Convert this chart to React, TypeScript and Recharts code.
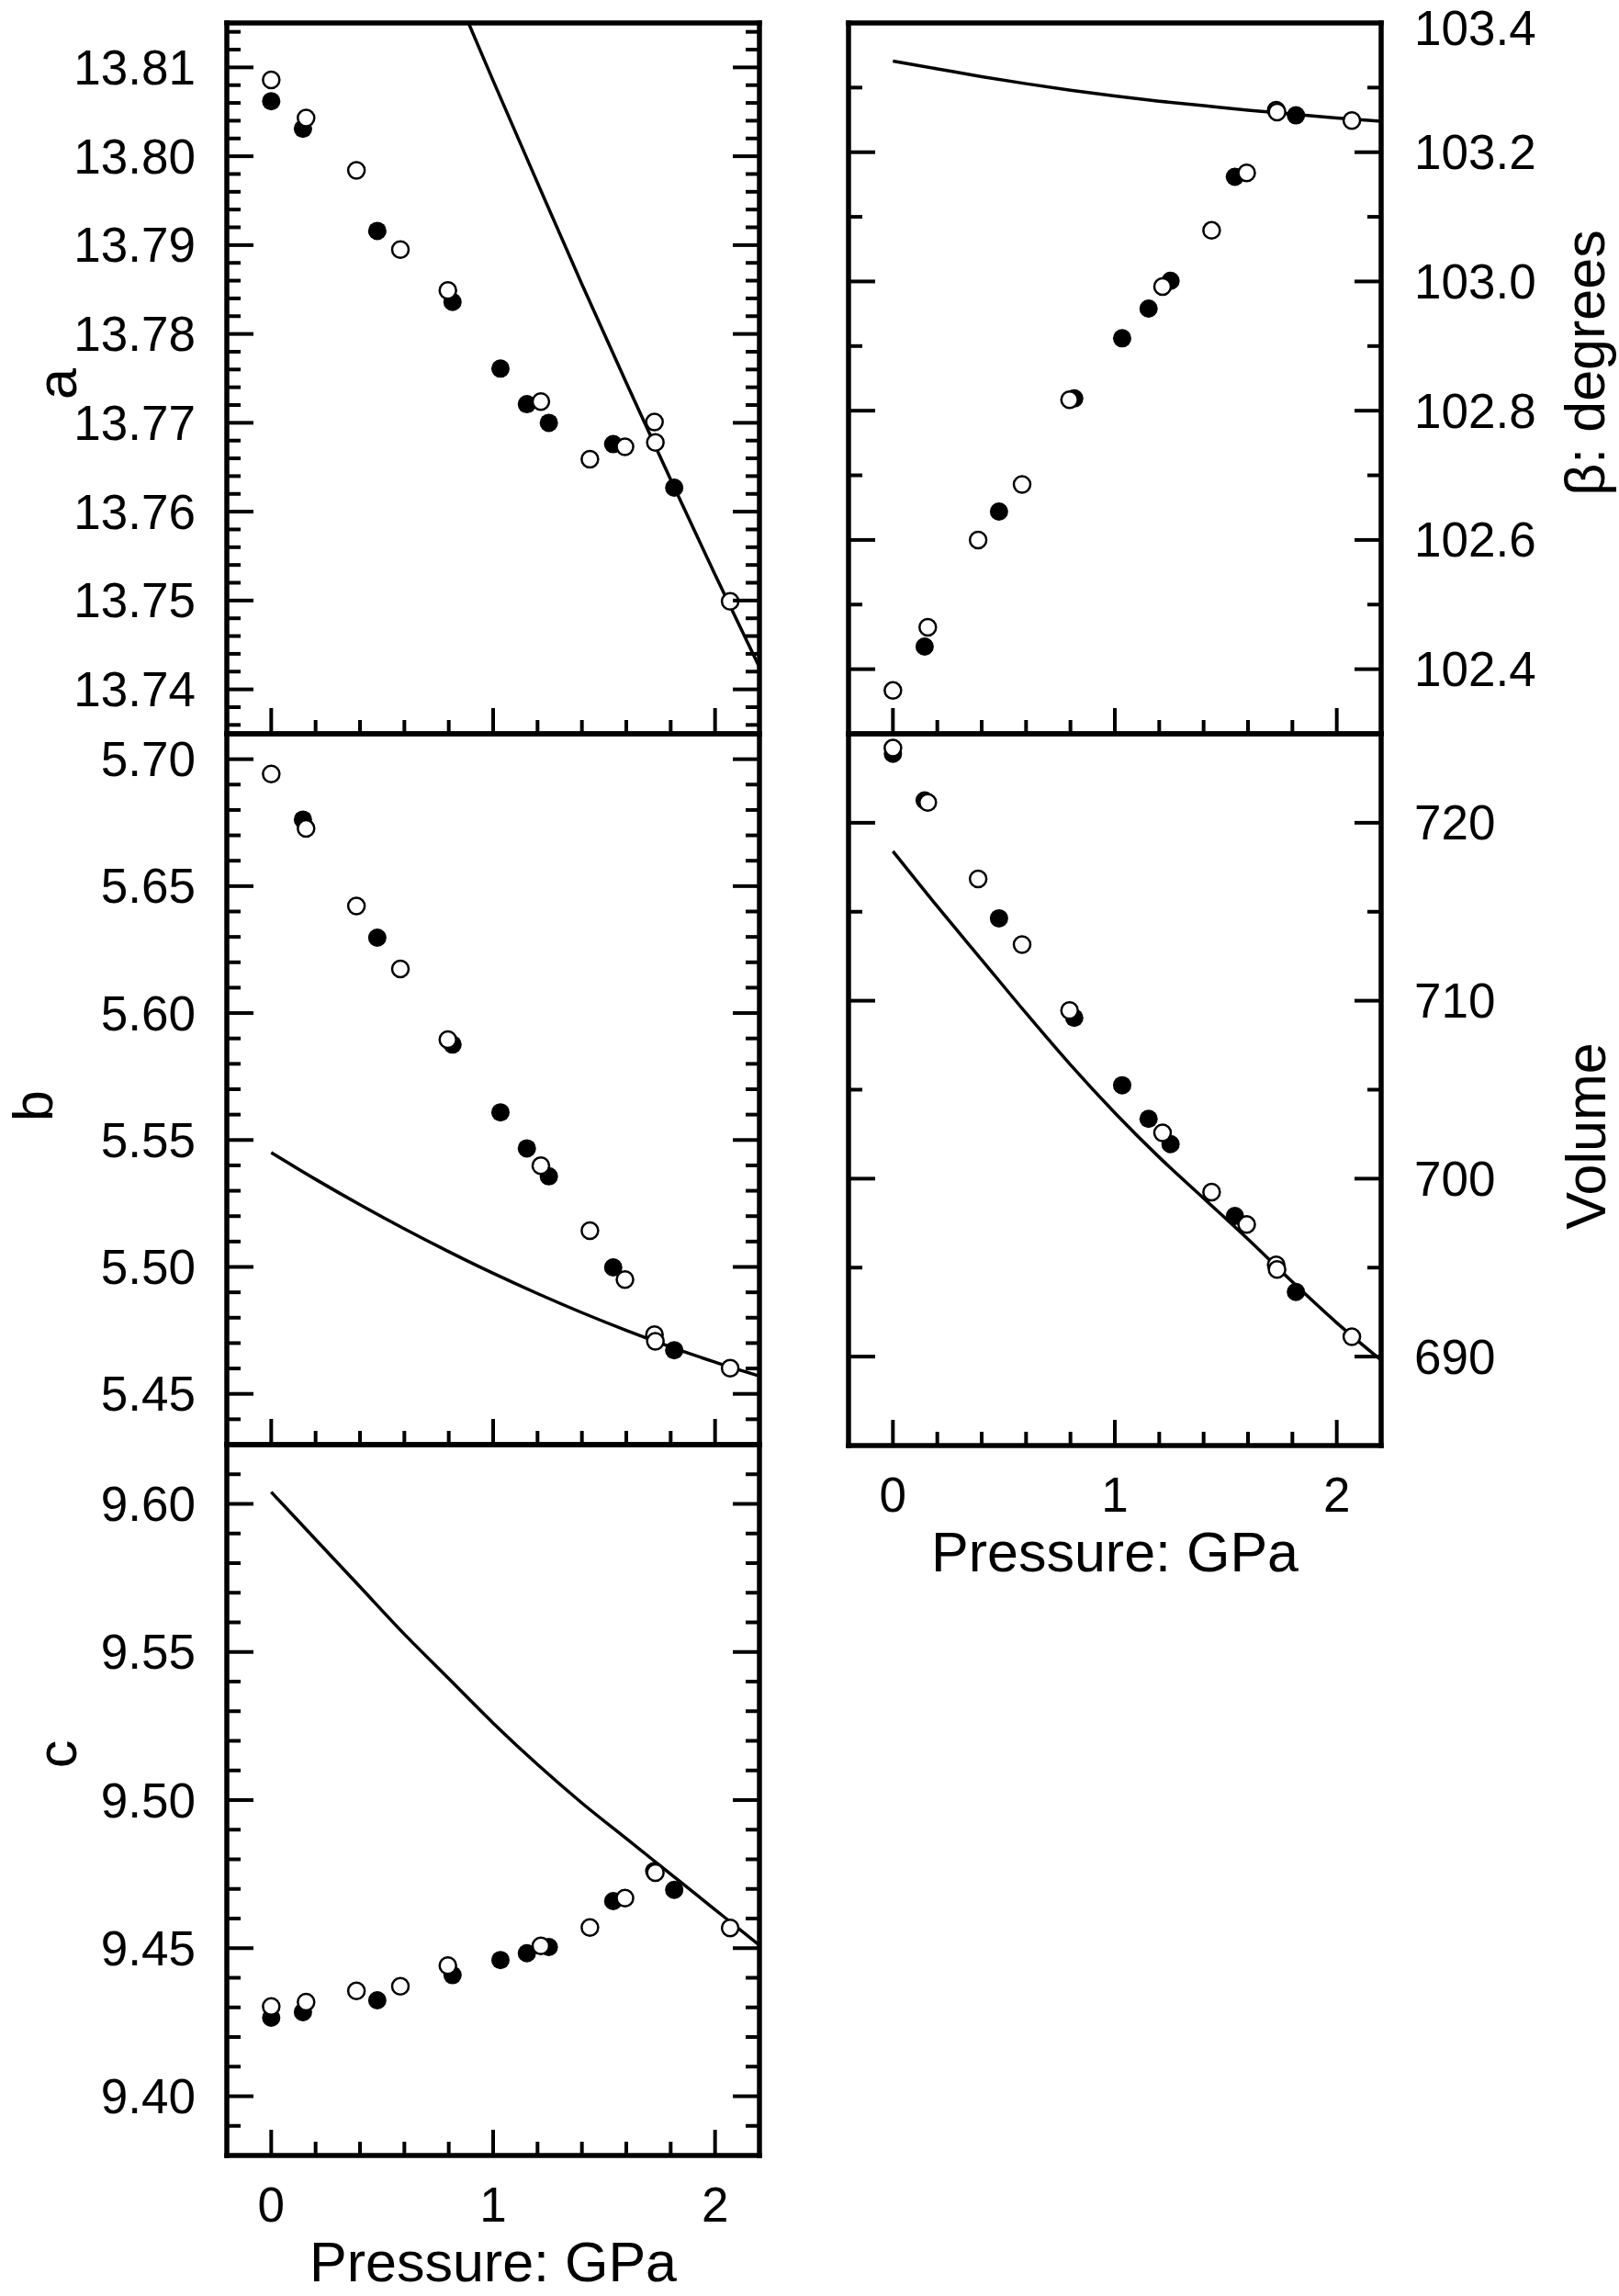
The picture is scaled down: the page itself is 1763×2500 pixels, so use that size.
import React from 'react';
import { ComposedChart, Scatter, Line, XAxis, YAxis } from 'recharts';

const FONT = "'Liberation Sans', Arial, Helvetica, sans-serif";

// pressure (GPa) of the two runs of measurements and of the fitted curves
const filledP = [0, 0.143, 0.478, 0.817, 1.033, 1.152, 1.251, 1.541, 1.816];
const openP = [0, 0.157, 0.384, 0.582, 0.796, 1.215, 1.436, 1.594, 1.727, 1.731, 2.068];
const fitP = [0, 0.2, 0.4, 0.6, 0.8, 1.0, 1.2, 1.4, 1.6, 1.8, 2.0, 2.2];
const fitPA = [0.8, 1.0, 1.2, 1.4, 1.6, 1.8, 2.0, 2.2];

// a
const aFilled = [13.8062, 13.8031, 13.7916, 13.7836, 13.7761, 13.7721, 13.77, 13.7676, 13.7627];
const aOpen = [13.8086, 13.8043, 13.7984, 13.7895, 13.7849, 13.7724, 13.7659, 13.7673, 13.7701, 13.7678, 13.7499];
const aFit = [13.8202, 13.8085, 13.797, 13.7856, 13.7745, 13.7636, 13.7529, 13.7425];

// b
const bFilled = [null, 5.6762, 5.6297, 5.5876, 5.5609, 5.5467, 5.5357, 5.4998, 5.4672];
const bOpen = [5.6942, 5.6727, 5.6422, 5.6174, 5.5895, 5.5399, 5.5143, 5.495, 5.4733, 5.4707, 5.4601];
const bFit = [5.545, 5.5345, 5.5245, 5.515, 5.506, 5.4975, 5.4895, 5.482, 5.475, 5.4685, 5.4625, 5.457];

// c
const cFilled = [9.4265, 9.4284, 9.4324, 9.4409, 9.446, 9.4483, 9.4504, 9.4659, 9.4697];
const cOpen = [9.4303, 9.4318, 9.4356, 9.4371, 9.4441, 9.4508, 9.457, 9.4669, 9.476, 9.4755, 9.4568];
const cFit = [9.604, 9.588, 9.572, 9.556, 9.541, 9.526, 9.512, 9.499, 9.487, 9.475, 9.463, 9.451];

// beta
const betaFilled = [null, 102.435, 102.644, 102.819, 102.912, 102.958, 103.001, 103.162, 103.257];
const betaOpen = [102.367, 102.465, 102.6, 102.686, 102.817, 102.992, 103.079, 103.168, 103.265, 103.262, 103.249];
const betaFit = [103.341, 103.329, 103.317, 103.306, 103.296, 103.287, 103.279, 103.272, 103.265, 103.259, 103.253, 103.248];

// volume
const volFilled = [723.88, 721.26, 714.63, 709.04, 705.25, 703.36, 701.94, 697.9, 693.63];
const volOpen = [724.2, 721.14, 716.84, 713.15, 709.45, 702.57, 699.25, 697.42, 695.15, 694.9, 691.11];
const volFit = [718.4, 715.3, 712.3, 709.3, 706.4, 703.7, 701.2, 698.9, 696.6, 694.2, 691.9, 689.8];

// axis ticks
const xTicks = [0, 0.2, 0.4, 0.6, 0.8, 1, 1.2, 1.4, 1.6, 1.8, 2];
const xMajor = [0, 1, 2];
const aMajor = [13.74, 13.75, 13.76, 13.77, 13.78, 13.79, 13.8, 13.81];
const bMajor = [5.45, 5.5, 5.55, 5.6, 5.65, 5.7];
const cMajor = [9.4, 9.45, 9.5, 9.55, 9.6];
const betaMajor = [102.4, 102.6, 102.8, 103.0, 103.2, 103.4];
const volMajor = [690, 700, 710, 720];

const steps = (lo: number, hi: number, n: number) =>
  Array.from({ length: n + 1 }, (_, i) => +(lo + (i * (hi - lo)) / n).toFixed(4));

const aTicks = steps(13.736, 13.814, 39);
const bTicks = steps(5.44, 5.7, 26);
const cTicks = steps(9.39, 9.61, 22);
const betaTicks = steps(102.4, 103.4, 10);
const volTicks = steps(690, 720, 6);

type Pt = { x: number; y: number };
const pts = (xs: number[], ys: (number | null)[]): Pt[] =>
  xs.map((x, i) => ({ x, y: ys[i] as number })).filter((p) => p.y != null);

const near = (list: number[], v: number) => list.some((m) => Math.abs(m - v) < 1e-6);

const TICK_FS = 53;
const TITLE_FS = 61;

function makeXTick(dir: 1 | -1, showLabel: boolean) {
  return (p: any) => {
    const v = p.payload.value;
    const major = near(xMajor, v);
    return (
      <g>
        <line x1={p.x} y1={p.y} x2={p.x} y2={p.y + dir * (major ? 28 : 15)} stroke="#000" strokeWidth={4} />
        {showLabel && major ? (
          <text x={p.x} y={p.y + 53} textAnchor="middle" dominantBaseline="central" fontSize={TICK_FS} fontFamily={FONT} fill="#000">
            {String(v)}
          </text>
        ) : null}
      </g>
    );
  };
}

// minTop: smallest label centre (svg coords) so the topmost label stays on the page
function makeYTick(dir: 1 | -1, majors: number[], fmt: ((v: number) => string) | null, minTop: number) {
  return (p: any) => {
    const v = p.payload.value;
    const major = near(majors, v);
    return (
      <g>
        <line x1={p.x} y1={p.y} x2={p.x + dir * (major ? 29 : 15)} y2={p.y} stroke="#000" strokeWidth={4} />
        {fmt && major ? (
          <text
            x={dir === 1 ? p.x - 34 : p.x + 36}
            y={Math.max(p.y, minTop)}
            textAnchor={dir === 1 ? 'end' : 'start'}
            dominantBaseline="central"
            fontSize={TICK_FS}
            fontFamily={FONT}
            fill="#000"
          >
            {fmt(v)}
          </text>
        ) : null}
      </g>
    );
  };
}

const FilledDot = (p: any) => <circle cx={p.cx} cy={p.cy} r={10} fill="#000" />;
const OpenDot = (p: any) => <circle cx={p.cx} cy={p.cy} r={9} fill="#fff" stroke="#000" strokeWidth={2.5} />;

type PanelProps = {
  left: number;
  top: number;
  w: number;
  h: number;
  domain: [number, number];
  ticks: number[];
  majors: number[];
  fmt: (v: number) => string;
  side: 'left' | 'right';
  xLabels: boolean;
  title: string;
  titleX: number;
  titleY: number;
  filled: Pt[];
  open: Pt[];
  fit: Pt[];
};

function Panel(props: PanelProps) {
  const { left, top, w, h, domain, ticks, majors, fmt, side, xLabels, title, titleX, titleY, filled, open, fit } = props;
  const leftW = side === 'left' ? left : 20;
  const rightW = side === 'right' ? 1763 - (left + w) : 20;
  const topH = 30;
  const bottomH = xLabels ? 165 : 20;
  const x0 = left - leftW;
  const y0 = top - topH;
  const W = leftW + w + rightW;
  const H = topH + h + bottomH;
  const axisLine = { stroke: '#000', strokeWidth: 5.5, strokeLinecap: 'square' as const };
  const tx = titleX - x0;
  const ty = titleY - y0;
  const minTop = 30 - y0;

  const yTitle = () => (
    <text transform={`rotate(-90 ${tx} ${ty})`} x={tx} y={ty} textAnchor="middle" fontSize={TITLE_FS} fontFamily={FONT} fill="#000">
      {title}
    </text>
  );
  const xTitle = () => (
    <text x={leftW + w / 2} y={topH + h + 137} textAnchor="middle" fontSize={TITLE_FS} fontFamily={FONT} fill="#000">
      Pressure: GPa
    </text>
  );

  return (
    <div style={{ position: 'absolute', left: x0, top: y0, width: W, height: H }}>
      <ComposedChart width={W} height={H} margin={{ top: 0, right: 0, bottom: 0, left: 0 }}>
        <XAxis
          xAxisId="b"
          orientation="bottom"
          type="number"
          dataKey="x"
          domain={[-0.2, 2.2]}
          ticks={xTicks}
          interval={0}
          height={bottomH}
          tickLine={false}
          tickSize={0}
          tickMargin={0}
          axisLine={axisLine}
          tick={makeXTick(-1, xLabels)}
          label={xLabels ? xTitle : undefined}
        />
        <XAxis
          xAxisId="t"
          orientation="top"
          type="number"
          dataKey="x"
          domain={[-0.2, 2.2]}
          ticks={xTicks}
          interval={0}
          height={topH}
          tickLine={false}
          tickSize={0}
          tickMargin={0}
          axisLine={axisLine}
          tick={makeXTick(1, false)}
        />
        <YAxis
          yAxisId="l"
          orientation="left"
          type="number"
          dataKey="y"
          domain={domain}
          allowDataOverflow
          ticks={ticks}
          interval={0}
          width={leftW}
          tickLine={false}
          tickSize={0}
          tickMargin={0}
          axisLine={axisLine}
          tick={makeYTick(1, majors, side === 'left' ? fmt : null, minTop)}
          label={side === 'left' ? yTitle : undefined}
        />
        <YAxis
          yAxisId="r"
          orientation="right"
          type="number"
          dataKey="y"
          domain={domain}
          allowDataOverflow
          ticks={ticks}
          interval={0}
          width={rightW}
          tickLine={false}
          tickSize={0}
          tickMargin={0}
          axisLine={axisLine}
          tick={makeYTick(-1, majors, side === 'right' ? fmt : null, minTop)}
          label={side === 'right' ? yTitle : undefined}
        />
        <Scatter xAxisId="b" yAxisId="l" data={filled} shape={FilledDot} isAnimationActive={false} />
        <Scatter xAxisId="b" yAxisId="l" data={open} shape={OpenDot} isAnimationActive={false} />
        <Line
          xAxisId="b"
          yAxisId="l"
          data={fit}
          dataKey="y"
          type="monotone"
          stroke="#000"
          strokeWidth={3.5}
          dot={false}
          activeDot={false}
          isAnimationActive={false}
        />
      </ComposedChart>
    </div>
  );
}

const f2 = (v: number) => v.toFixed(2);
const f1 = (v: number) => v.toFixed(1);
const f0 = (v: number) => v.toFixed(0);

export default function App() {
  return (
    <div style={{ position: 'absolute', left: 0, top: 0, width: 1763, height: 2500, background: '#fff', overflow: 'hidden' }}>
      <Panel
        left={247} top={25} w={580} h={774}
        domain={[13.735, 13.815]} ticks={aTicks} majors={aMajor} fmt={f2}
        side="left" xLabels={false} title="a" titleX={83} titleY={418}
        filled={pts(filledP, aFilled)} open={pts(openP, aOpen)} fit={pts(fitPA, aFit)}
      />
      <Panel
        left={247} top={799} w={580} h={774}
        domain={[5.43, 5.71]} ticks={bTicks} majors={bMajor} fmt={f2}
        side="left" xLabels={false} title="b" titleX={57} titleY={1204}
        filled={pts(filledP, bFilled)} open={pts(openP, bOpen)} fit={pts(fitP, bFit)}
      />
      <Panel
        left={247} top={1573} w={580} h={774}
        domain={[9.38, 9.62]} ticks={cTicks} majors={cMajor} fmt={f2}
        side="left" xLabels={true} title="c" titleX={83} titleY={1910}
        filled={pts(filledP, cFilled)} open={pts(openP, cOpen)} fit={pts(fitP, cFit)}
      />
      <Panel
        left={924} top={25} w={580} h={774}
        domain={[102.3, 103.4]} ticks={betaTicks} majors={betaMajor} fmt={f1}
        side="right" xLabels={false} title="β: degrees" titleX={1747} titleY={395}
        filled={pts(filledP, betaFilled)} open={pts(openP, betaOpen)} fit={pts(fitP, betaFit)}
      />
      <Panel
        left={924} top={799} w={580} h={775}
        domain={[685, 725]} ticks={volTicks} majors={volMajor} fmt={f0}
        side="right" xLabels={true} title="Volume" titleX={1748} titleY={1237}
        filled={pts(filledP, volFilled)} open={pts(openP, volOpen)} fit={pts(fitP, volFit)}
      />
    </div>
  );
}
